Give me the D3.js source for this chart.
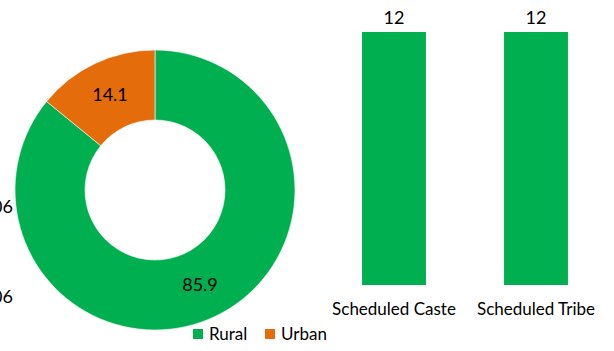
<!DOCTYPE html>
<html>
<head>
<meta charset="utf-8">
<script src="https://cdn.jsdelivr.net/npm/d3@7"></script>
<style>
  html, body { margin: 0; padding: 0; background: #fff; }
  svg { display: block; font-family: Lato, "Open Sans", sans-serif; }
</style>
</head>
<body>
<svg id="chart" width="614" height="351"></svg>
<script>
// Residence split (percent)
const areaNames = ["Rural", "Urban"];
const areaShares = [85.9, 14.1];
const areaColors = ["#00B050", "#E46C0A"];

// Social group shares (percent)
const groupNames = ["Scheduled Caste", "Scheduled Tribe"];
const groupValues = [12, 12];

// Axis labels from the neighbouring panel that spill in at the left edge
const sideLabels = ["2005-06", "2005-06"];

const svg = d3.select("#chart");
const numSize = 18;
const labelSize = 17;

// ---- Donut ----
const cx = 155, cy = 190, outerR = 140, innerR = 70;
const pie = d3.pie().sort(null).value(d => d.value);
const arc = d3.arc().innerRadius(innerR).outerRadius(outerR);
const labelArc = d3.arc().innerRadius(105).outerRadius(105);
const areaData = areaNames.map((n, i) => ({ name: n, value: areaShares[i], color: areaColors[i] }));
const arcs = pie(areaData);

const donut = svg.append("g").attr("transform", `translate(${cx},${cy})`);
donut.selectAll("path").data(arcs).join("path")
  .attr("d", arc)
  .attr("fill", d => d.data.color)
  .attr("stroke", "#fff")
  .attr("stroke-width", 0.6);
donut.selectAll("text").data(arcs).join("text")
  .attr("transform", d => `translate(${labelArc.centroid(d)})`)
  .attr("text-anchor", "middle")
  .attr("dy", "0.35em")
  .attr("font-size", numSize)
  .attr("fill", "#000")
  .text(d => d.data.value.toFixed(1));

// Legend under the donut
const legendX = d3.scalePoint().domain(areaNames).range([193, 265]);
const legend = svg.append("g").attr("transform", "translate(0,329)");
const li = legend.selectAll("g").data(areaData).join("g")
  .attr("transform", d => `translate(${legendX(d.name)},0)`);
li.append("rect").attr("width", 10).attr("height", 10).attr("fill", d => d.color);
li.append("text").attr("x", 16).attr("y", 5).attr("dy", "0.35em")
  .attr("font-size", labelSize).attr("fill", "#000").text(d => d.name);

// Clipped labels on the left edge
const sideY = d3.scalePoint().domain(d3.range(sideLabels.length)).range([207, 297]);
svg.append("g").selectAll("text").data(sideLabels).join("text")
  .attr("x", 13).attr("y", (d, i) => sideY(i)).attr("dy", "0.35em")
  .attr("text-anchor", "end").attr("font-size", numSize).attr("fill", "#000")
  .text(d => d);

// ---- Bars ----
const x = d3.scaleBand().domain(groupNames).range([323, 607]).paddingInner(0.55).paddingOuter(0.275);
const y = d3.scaleLinear().domain([0, 12]).range([285, 32]);
const bars = svg.append("g");
bars.selectAll("rect").data(groupNames).join("rect")
  .attr("x", d => x(d))
  .attr("width", x.bandwidth())
  .attr("y", (d, i) => y(groupValues[i]))
  .attr("height", (d, i) => y(0) - y(groupValues[i]))
  .attr("fill", "#00B050");
bars.selectAll("text.val").data(groupNames).join("text")
  .attr("class", "val")
  .attr("x", d => x(d) + x.bandwidth() / 2)
  .attr("y", (d, i) => y(groupValues[i]) - 8)
  .attr("text-anchor", "middle").attr("font-size", numSize).attr("fill", "#000")
  .text((d, i) => groupValues[i]);

const xAxis = svg.append("g").attr("transform", `translate(0,${y(0)})`)
  .call(d3.axisBottom(x).tickSize(0).tickPadding(18));
xAxis.select(".domain").remove();
xAxis.selectAll("text").attr("font-size", labelSize).attr("fill", "#000")
  .attr("font-family", "Lato, 'Open Sans', sans-serif");
</script>
</body>
</html>
